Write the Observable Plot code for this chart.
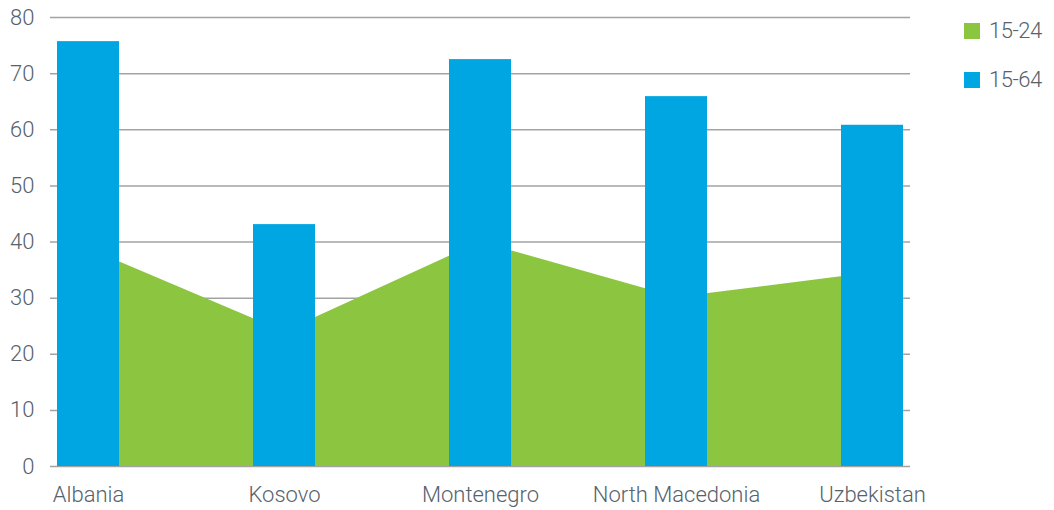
<!DOCTYPE html>
<html>
<head>
<meta charset="utf-8">
<script src="https://cdn.jsdelivr.net/npm/d3@7"></script>
<script src="https://cdn.jsdelivr.net/npm/@observablehq/plot@0.6"></script>
<style>
  body { margin: 0; background: #fff; }
  #wrap { position: relative; width: 1054px; height: 510px; font-family: Roboto, "Liberation Sans", sans-serif; font-weight: 300; }
  .leg { position: absolute; left: 964px; display: flex; align-items: center; font-size: 22px; color: #56626c; letter-spacing: -0.5px; }
  .leg span.sw { width: 16px; height: 16px; display: inline-block; margin-right: 9px; }
</style>
</head>
<body>
<div id="wrap"></div>
<script>
const countries = ["Albania", "Kosovo", "Montenegro", "North Macedonia", "Uzbekistan"];
const youth = [38.8, 24.0, 40.0, 30.1, 34.5];      // 15-24
const working = [75.7, 43.1, 72.5, 65.9, 60.8];    // 15-64
const yTicks = [0, 10, 20, 30, 40, 50, 60, 70, 80];
const seriesNames = ["15-24", "15-64"];
const seriesColors = ["#8cc540", "#00a6e1"];

const rows = countries.map((c, i) => ({country: c, youth: youth[i], working: working[i]}));

const chart = Plot.plot({
  width: 1054,
  height: 510,
  marginLeft: 50,
  marginRight: 144,
  marginTop: 17,
  marginBottom: 44,
  style: {fontFamily: "Roboto, 'Liberation Sans', sans-serif", fontSize: "22px", fontWeight: 300, color: "#56626c", background: "#fff"},
  x: {domain: countries, type: "band", paddingInner: 0.6837, paddingOuter: 0.0357, align: 0.5, label: null},
  y: {domain: [0, 80], label: null},
  marks: [
    Plot.ruleY(yTicks, {stroke: "#a3a3a3", strokeWidth: 1.5}),
    Plot.areaY(rows, {x: "country", y: "youth", fill: seriesColors[0], curve: "linear"}),
    Plot.barY(rows, {x: "country", y: "working", fill: seriesColors[1]}),
    Plot.axisY(yTicks, {tickSize: 0, tickPadding: 16, fontSize: 22, fill: "#56626c"}),
    Plot.axisX({tickSize: 0, tickPadding: 20, fontSize: 22, fill: "#56626c"})
  ]
});
const wrap = document.getElementById("wrap");
wrap.appendChild(chart);
seriesNames.forEach((n, i) => {
  const d = document.createElement("div");
  d.className = "leg";
  d.style.top = (i === 0 ? 18 : 67) + "px";
  d.innerHTML = `<span class="sw" style="background:${seriesColors[i]}"></span><span>${n}</span>`;
  wrap.appendChild(d);
});
</script>
</body>
</html>
